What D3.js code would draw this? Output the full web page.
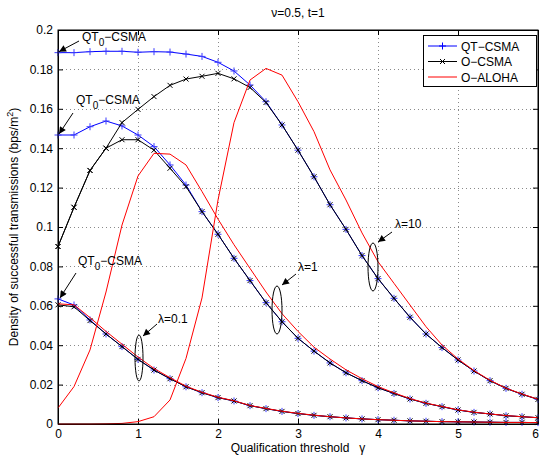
<!DOCTYPE html>
<html>
<head>
<meta charset="utf-8">
<script src="https://cdn.jsdelivr.net/npm/d3@7/dist/d3.min.js"></script>
<style>
  html, body { margin: 0; padding: 0; background: #fff; }
  svg { display: block; font-family: "Liberation Sans", Arial, Helvetica, sans-serif; }
</style>
</head>
<body>
<svg id="chart" width="539" height="455"></svg>
<script>
// Qualification threshold values (x axis)
const gamma = [0, 0.2, 0.4, 0.6, 0.8, 1.0, 1.2, 1.4, 1.6, 1.8, 2.0, 2.2, 2.4, 2.6, 2.8, 3.0,
               3.2, 3.4, 3.6, 3.8, 4.0, 4.2, 4.4, 4.6, 4.8, 5.0, 5.2, 5.4, 5.6, 5.8, 6.0];

// lambda = 10
const qtCsma10 = [0.1885, 0.1885, 0.1890, 0.1892, 0.1892, 0.1887, 0.1890, 0.1888, 0.1878, 0.1866, 0.1836,
                  0.1792, 0.1721, 0.1636, 0.1518, 0.1390, 0.1255, 0.1113, 0.0988, 0.0855, 0.0738,
                  0.0638, 0.0542, 0.0457, 0.0388, 0.0325, 0.0269, 0.0220, 0.0181, 0.0151, 0.0125];
const oCsma10  = [0.0901, 0.1100, 0.1287, 0.1400, 0.1530, 0.1597, 0.1662, 0.1719, 0.1751, 0.1765, 0.1780,
                  0.1752, 0.1708, 0.1632, 0.1518, 0.1390, 0.1255, 0.1113, 0.0988, 0.0855, 0.0738,
                  0.0638, 0.0542, 0.0457, 0.0388, 0.0325, 0.0269, 0.0220, 0.0181, 0.0151, 0.0125];
const oAloha10 = [0.0000, 0.0000, 0.0000, 0.0001, 0.0003, 0.0012, 0.0037, 0.0122, 0.0333, 0.0640, 0.1137,
                  0.1530, 0.1746, 0.1805, 0.1771, 0.1636, 0.1484, 0.1290, 0.1137, 0.0970, 0.0824,
                  0.0714, 0.0604, 0.0494, 0.0401, 0.0330, 0.0271, 0.0222, 0.0182, 0.0152, 0.0126];

// lambda = 1
const qtCsma1  = [0.1467, 0.1467, 0.1509, 0.1538, 0.1513, 0.1467, 0.1408, 0.1315, 0.1213, 0.1078, 0.0963,
                  0.0841, 0.0728, 0.0616, 0.0519, 0.0435, 0.0370, 0.0310, 0.0260, 0.0220, 0.0184,
                  0.0155, 0.0127, 0.0105, 0.0088, 0.0071, 0.0059, 0.0051, 0.0042, 0.0037, 0.0032];
const oCsma1   = [0.0901, 0.1100, 0.1287, 0.1400, 0.1443, 0.1443, 0.1390, 0.1298, 0.1205, 0.1078, 0.0963,
                  0.0841, 0.0728, 0.0616, 0.0519, 0.0435, 0.0370, 0.0310, 0.0260, 0.0220, 0.0184,
                  0.0155, 0.0127, 0.0105, 0.0088, 0.0071, 0.0059, 0.0051, 0.0042, 0.0037, 0.0032];
const oAloha1  = [0.0081, 0.0190, 0.0376, 0.0670, 0.1010, 0.1259, 0.1374, 0.1370, 0.1315, 0.1180, 0.1040,
                  0.0910, 0.0790, 0.0670, 0.0560, 0.0470, 0.0390, 0.0330, 0.0275, 0.0230, 0.0190,
                  0.0158, 0.0129, 0.0106, 0.0089, 0.0072, 0.0060, 0.0051, 0.0043, 0.0037, 0.0032];

// lambda = 0.1
const qtCsma01 = [0.0635, 0.0604, 0.0528, 0.0457, 0.0393, 0.0328, 0.0274, 0.0230, 0.0189, 0.0159, 0.0134,
                  0.0117, 0.0093, 0.0078, 0.0064, 0.0053, 0.0044, 0.0037, 0.0031, 0.0026, 0.0022,
                  0.0019, 0.0016, 0.0014, 0.0012, 0.0011, 0.0010, 0.0009, 0.0008, 0.0008, 0.0007];
const oCsma01  = [0.0605, 0.0595, 0.0525, 0.0457, 0.0393, 0.0328, 0.0274, 0.0230, 0.0189, 0.0159, 0.0134,
                  0.0117, 0.0093, 0.0078, 0.0064, 0.0053, 0.0044, 0.0037, 0.0031, 0.0026, 0.0022,
                  0.0019, 0.0016, 0.0014, 0.0012, 0.0011, 0.0010, 0.0009, 0.0008, 0.0008, 0.0007];
const oAloha01 = [0.0610, 0.0605, 0.0540, 0.0470, 0.0405, 0.0340, 0.0282, 0.0235, 0.0192, 0.0161, 0.0136,
                  0.0118, 0.0094, 0.0079, 0.0065, 0.0054, 0.0045, 0.0037, 0.0031, 0.0026, 0.0022,
                  0.0019, 0.0016, 0.0014, 0.0012, 0.0011, 0.0010, 0.0009, 0.0008, 0.0008, 0.0007];

const xTicks = [0, 1, 2, 3, 4, 5, 6];
const yTicks = [0, 0.02, 0.04, 0.06, 0.08, 0.1, 0.12, 0.14, 0.16, 0.18, 0.2];
const yTickLabels = ["0", "0.02", "0.04", "0.06", "0.08", "0.1", "0.12", "0.14", "0.16", "0.18", "0.2"];

const legendNames = ["QT\u2212CSMA", "O\u2212CSMA", "O\u2212ALOHA"];

const series = [
  { values: qtCsma10, kind: 0 }, { values: qtCsma1, kind: 0 }, { values: qtCsma01, kind: 0 },
  { values: oCsma10, kind: 1 },  { values: oCsma1, kind: 1 },  { values: oCsma01, kind: 1 },
  { values: oAloha10, kind: 2 }, { values: oAloha1, kind: 2 }, { values: oAloha01, kind: 2 }
];

const kindStyle = [
  { color: "#0000ff", marker: "plus" },
  { color: "#000000", marker: "cross" },
  { color: "#ff0000", marker: null }
];

const svg = d3.select("#chart");
const mLeft = 58, mRight = 538, mTop = 30, mBottom = 424;

const x = d3.scaleLinear().domain([0, 6]).range([mLeft, mRight]);
const y = d3.scaleLinear().domain([0, 0.2]).range([mBottom, mTop]);

// Dotted grid
const grid = svg.append("g").attr("stroke", "#8a8a8a").attr("stroke-width", 1)
  .attr("stroke-dasharray", "1,3");
grid.selectAll("line.gx").data(xTicks.slice(1, -1)).join("line")
  .attr("x1", d => Math.round(x(d)) + 0.5).attr("x2", d => Math.round(x(d)) + 0.5)
  .attr("y1", mTop).attr("y2", mBottom);
grid.selectAll("line.gy").data(yTicks.slice(1, -1)).join("line")
  .attr("y1", d => Math.round(y(d)) + 0.5).attr("y2", d => Math.round(y(d)) + 0.5)
  .attr("x1", mLeft).attr("x2", mRight);

// Axes with inward ticks on all sides
const fs = "12px";
const axB = svg.append("g").attr("transform", `translate(0,${mBottom})`)
  .call(d3.axisBottom(x).tickValues(xTicks).tickFormat(d3.format("d")).tickSizeInner(-5).tickSizeOuter(0).tickPadding(5));
const axT = svg.append("g").attr("transform", `translate(0,${mTop})`)
  .call(d3.axisTop(x).tickValues(xTicks).tickFormat("").tickSizeInner(-5).tickSizeOuter(0));
const axL = svg.append("g").attr("transform", `translate(${mLeft},0)`)
  .call(d3.axisLeft(y).tickValues(yTicks).tickFormat((d, i) => yTickLabels[i]).tickSizeInner(-5).tickSizeOuter(0).tickPadding(5));
const axR = svg.append("g").attr("transform", `translate(${mRight},0)`)
  .call(d3.axisRight(y).tickValues(yTicks).tickFormat("").tickSizeInner(-5).tickSizeOuter(0));
[axB, axT, axL, axR].forEach(a => {
  a.selectAll("text").attr("font-size", fs).attr("fill", "#000").attr("font-family", "Liberation Sans, Arial, sans-serif");
  a.selectAll("line, path").attr("stroke", "#000");
});
// keep the last x label inside the page edge
axB.selectAll(".tick text").filter(d => d === 6).attr("dx", -3);

// Curves
const line = d3.line().x((d, i) => x(gamma[i])).y(d => y(d));
const plot = svg.append("g");
series.forEach(s => {
  const st = kindStyle[s.kind];
  plot.append("path").datum(s.values).attr("d", line)
    .attr("fill", "none").attr("stroke", st.color).attr("stroke-width", 1);
  if (st.marker) {
    plot.append("g").selectAll("path").data(s.values).join("path")
      .attr("transform", (d, i) => `translate(${x(gamma[i])},${y(d)})`)
      .attr("d", st.marker === "plus" ? "M-3.5,0H3.5M0,-3.5V3.5" : "M-2.5,-2.5L2.5,2.5M-2.5,2.5L2.5,-2.5")
      .attr("stroke", st.marker === "plus" ? "#3b3bff" : "#000").attr("stroke-width", 1).attr("fill", "none");
  }
});

// Box around the axes area
svg.append("rect").attr("x", mLeft).attr("y", mTop).attr("width", mRight - mLeft).attr("height", mBottom - mTop)
  .attr("fill", "none").attr("stroke", "#000").attr("stroke-width", 1);

// Arrow marker for annotations
svg.append("defs").append("marker").attr("id", "arrow").attr("viewBox", "0 0 10 10")
  .attr("refX", 10).attr("refY", 5).attr("markerWidth", 9).attr("markerHeight", 7)
  .attr("markerUnits", "userSpaceOnUse").attr("orient", "auto")
  .append("path").attr("d", "M0,0L10,5L0,10z").attr("fill", "#000");

const ann = svg.append("g").attr("font-size", "12px").attr("fill", "#000");
function qtLabel(px, py) {
  const t = ann.append("text").attr("x", px).attr("y", py);
  t.append("tspan").text("QT");
  t.append("tspan").attr("dy", 5).attr("font-size", "10px").text("0");
  t.append("tspan").attr("dy", -5).text("\u2212CSMA");
}
function arrow(x1, y1, x2, y2) {
  ann.append("line").attr("x1", x1).attr("y1", y1).attr("x2", x2).attr("y2", y2)
    .attr("stroke", "#000").attr("stroke-width", 1).attr("marker-end", "url(#arrow)");
}
function ellipse(cx, cy, rx, ry) {
  ann.append("ellipse").attr("cx", cx).attr("cy", cy).attr("rx", rx).attr("ry", ry)
    .attr("fill", "none").attr("stroke", "#000").attr("stroke-width", 1);
}

qtLabel(82, 41);
arrow(79, 41, x(0) + 1, y(qtCsma10[0]) - 1);
qtLabel(76, 104);
arrow(73, 113, x(0) + 1, y(qtCsma1[0]) - 1);
qtLabel(78, 265);
arrow(76, 273, x(0) + 2, y(qtCsma01[0]) - 1);

ann.append("text").attr("x", 158).attr("y", 323).text("\u03bb=0.1");
arrow(157, 324, 143, 336);
ellipse(139, 358, 4, 23);

ann.append("text").attr("x", 298).attr("y", 271).text("\u03bb=1");
arrow(296, 274, 282, 285);
ellipse(277, 310, 5, 24);

ann.append("text").attr("x", 395).attr("y", 228).text("\u03bb=10");
arrow(392, 232, 378, 242);
ellipse(373, 267, 5, 24);

// Title and axis labels
svg.append("text").attr("x", 298).attr("y", 17).attr("text-anchor", "middle")
  .attr("font-size", "12px").text("\u03bd=0.5, t=1");
svg.append("text").attr("x", 298).attr("y", 452).attr("text-anchor", "middle")
  .attr("font-size", "12px").attr("xml:space", "preserve").text("Qualification threshold   \u03b3");
const yl = svg.append("text").attr("transform", `translate(18,${(mTop + mBottom) / 2}) rotate(-90)`)
  .attr("text-anchor", "middle").attr("font-size", "12px");
yl.append("tspan").text("Density of successful transmissions (bps/m");
yl.append("tspan").attr("dy", -5).attr("font-size", "9px").text("2");
yl.append("tspan").attr("dy", 5).text(")");

// Legend
const lg = svg.append("g").attr("transform", "translate(423,35)");
lg.append("rect").attr("x", 0.5).attr("y", 0.5).attr("width", 113).attr("height", 51)
  .attr("fill", "#fff").attr("stroke", "#000").attr("stroke-width", 1);
legendNames.forEach((name, i) => {
  const st = kindStyle[i];
  const cy = 11 + i * 15.5;
  const row = lg.append("g").attr("transform", `translate(0,${cy})`);
  row.append("line").attr("x1", 5).attr("x2", 34).attr("y1", 0).attr("y2", 0)
    .attr("stroke", st.color).attr("stroke-width", 1);
  if (st.marker) {
    row.append("path").attr("transform", "translate(19.5,0)")
      .attr("d", st.marker === "plus" ? "M-3.5,0H3.5M0,-3.5V3.5" : "M-2.5,-2.5L2.5,2.5M-2.5,2.5L2.5,-2.5")
      .attr("stroke", st.color).attr("stroke-width", 1);
  }
  row.append("text").attr("x", 38).attr("y", 4.5).attr("font-size", "12px").text(name);
});
</script>
</body>
</html>
